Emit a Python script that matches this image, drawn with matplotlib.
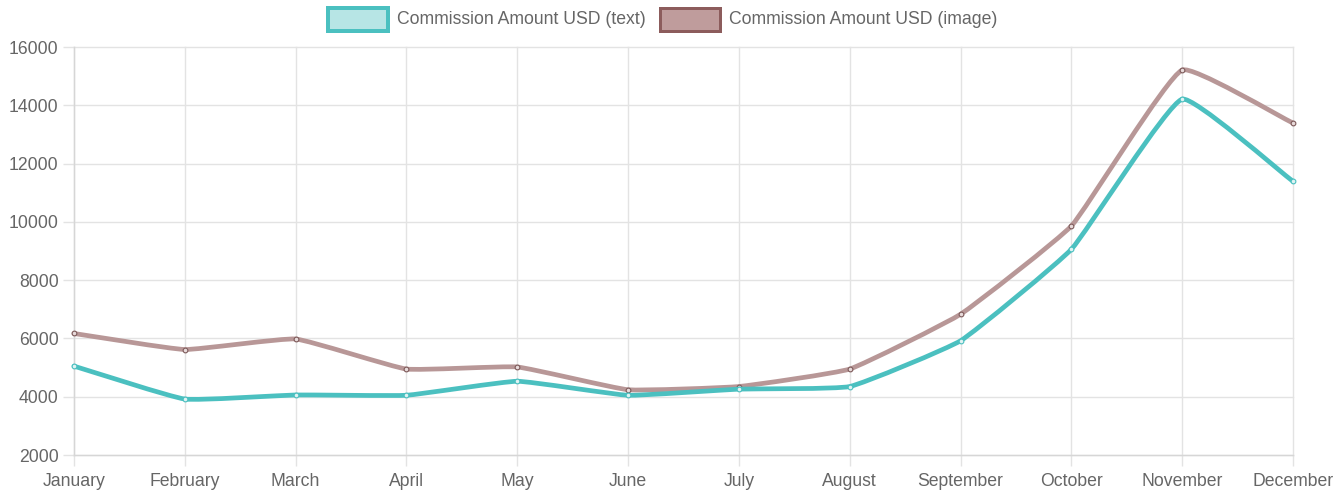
import numpy as np
import matplotlib
matplotlib.use("Agg")
import matplotlib.pyplot as plt
from matplotlib.path import Path
from matplotlib.patches import PathPatch, Rectangle

months = ["January", "February", "March", "April", "May", "June", "July",
          "August", "September", "October", "November", "December"]
text_usd = [5050, 3920, 4060, 4050, 4530, 4050, 4260, 4350, 5920, 9060, 14210, 11390]
image_usd = [6170, 5620, 5980, 4950, 5020, 4240, 4350, 4950, 6830, 9860, 15210, 13390]
series_names = ["Commission Amount USD (text)", "Commission Amount USD (image)"]
yticks = [2000, 4000, 6000, 8000, 10000, 12000, 14000, 16000]

TEAL = "#4bc0c0"
TEAL_FILL = "#b7e5e5"
BROWN = "#b89797"
BROWN_FILL = "#bf9c9c"
BROWN_EDGE = "#8c5c5c"
TXT = "#666666"
GRID = "#e3e3e3"
FS = 12.7

plt.rcParams['font.family'] = ['Liberation Sans', 'DejaVu Sans']

W, H = 1336, 494
fig = plt.figure(figsize=(W / 100, H / 100), dpi=100)
L, R, T, B = 74, 1293, 47, 455
ax = fig.add_axes([L / W, 1 - B / H, (R - L) / W, (B - T) / H])

x = np.arange(len(months))
ax.set_xlim(0, len(months) - 1)
ax.set_ylim(2000, 16000)
ax.set_yticks(yticks)
ax.set_yticklabels([str(v) for v in yticks])
ax.set_xticks(x)
ax.set_xticklabels(months)
for s in ax.spines.values():
    s.set_visible(False)
ax.grid(True, color=GRID, lw=1.0, zorder=0)
for gl in ax.get_xgridlines() + ax.get_ygridlines():
    gl.set_clip_on(False)
ax.set_axisbelow(True)
ax.tick_params(axis='both', colors=GRID, labelcolor=TXT, labelsize=FS, length=8, width=1.0)
ax.tick_params(axis='y', pad=3)
ax.tick_params(axis='x', pad=5)
ax.axhline(2000, color="#d6d6d6", lw=1.0, zorder=1, clip_on=False)
ax.axvline(0, color="#d6d6d6", lw=1.0, zorder=1, clip_on=False)


def spline_path(xs, ys, tension=0.12):
    pts = ax.transData.transform(np.column_stack([xs, ys]))
    n = len(pts)
    cps_prev = np.zeros_like(pts)
    cps_next = np.zeros_like(pts)
    for i in range(n):
        prev = pts[i - 1] if i > 0 else pts[i]
        cur = pts[i]
        nxt = pts[i + 1] if i < n - 1 else pts[i]
        d01 = np.hypot(*(cur - prev))
        d12 = np.hypot(*(nxt - cur))
        tot = d01 + d12
        s01 = d01 / tot if tot > 0 else 0
        s12 = d12 / tot if tot > 0 else 0
        fa = tension * s01
        fb = tension * s12
        cps_prev[i] = cur - fa * (nxt - prev)
        cps_next[i] = cur + fb * (nxt - prev)
    verts = [pts[0]]
    codes = [Path.MOVETO]
    for i in range(n - 1):
        verts += [cps_next[i], cps_prev[i + 1], pts[i + 1]]
        codes += [Path.CURVE4] * 3
    verts = ax.transData.inverted().transform(np.array(verts))
    return Path(verts, codes)


for vals, col, mfc, mec, z in [(image_usd, BROWN, "#e8dada", "#7d5a5a", 3),
                               (text_usd, TEAL, "#dff3f3", TEAL, 4)]:
    p = spline_path(x, vals)
    ax.add_patch(PathPatch(p, fill=False, edgecolor=col, lw=3.4,
                           capstyle='round', joinstyle='round', zorder=z, clip_on=False))
    ax.plot(x, vals, 'o', ms=3.4, mfc=mfc, mec=mec, mew=0.8, zorder=z + 0.5, clip_on=False)

# legend
def legend_item(x0, text, fill, edge, lwpx):
    y0, y1 = 8, 31
    rect = Rectangle((x0 / W, 1 - y1 / H), 60 / W, (y1 - y0) / H,
                     transform=fig.transFigure, facecolor=fill, edgecolor=edge,
                     lw=lwpx * 0.72)
    fig.add_artist(rect)
    fig.text((x0 + 69) / W, 1 - 19.5 / H, text, color=TXT, fontsize=FS,
             ha='left', va='center')

legend_item(328, series_names[0], TEAL_FILL, TEAL, 4)
legend_item(660, series_names[1], BROWN_FILL, BROWN_EDGE, 3)

fig.savefig("out.png", dpi=100)
